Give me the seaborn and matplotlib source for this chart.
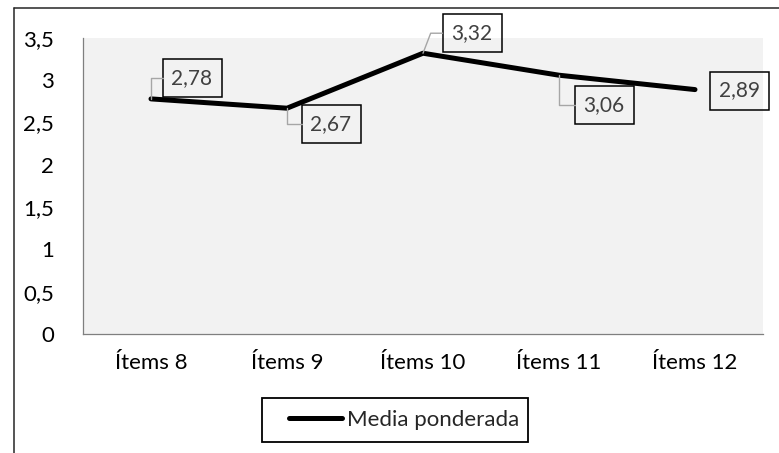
import matplotlib
matplotlib.use("Agg")
import matplotlib.pyplot as plt
from matplotlib.lines import Line2D
from matplotlib.patches import Rectangle
from matplotlib.path import Path
import numpy as np
import pandas as pd
import seaborn as sns

# Weighted means per item
categories = ["Ítems 8", "Ítems 9", "Ítems 10", "Ítems 11", "Ítems 12"]
media_ponderada = [2.78, 2.67, 3.32, 3.06, 2.89]
y_ticks = [0, 0.5, 1, 1.5, 2, 2.5, 3, 3.5]
series_name = "Media ponderada"

sns.set_theme(style="white")
plt.rcParams["font.family"] = ["Lato", "DejaVu Sans"]

FS = 16
FS_LABEL = 15
W, H = 779, 453
fig = plt.figure(figsize=(W / 100, H / 100), dpi=100)
fig.patch.set_facecolor("white")

# plot area in pixels: left, top, right, bottom
pl, pt, pr, pb = 83, 38, 763, 334
ax = fig.add_axes([pl / W, 1 - pb / H, (pr - pl) / W, (pb - pt) / H])
ax.set_facecolor("#F2F2F2")

df = pd.DataFrame({"pos": np.arange(len(categories)), "valor": media_ponderada})
sns.lineplot(data=df, x="pos", y="valor", ax=ax, color="black", linewidth=3.6,
             solid_capstyle="round", solid_joinstyle="round", legend=False)

ax.set_xlim(-0.5, len(categories) - 0.5)
ax.set_ylim(0, 3.5)
ax.set_xticks(np.arange(len(categories)))
ax.set_xticklabels(categories)
ax.set_yticks(y_ticks)
ax.set_yticklabels([f"{t:g}".replace(".", ",") for t in y_ticks])
ax.set_xlabel("")
ax.set_ylabel("")
ax.tick_params(axis="both", length=0, labelsize=FS, colors="black")
ax.tick_params(axis="y", pad=21)
ax.tick_params(axis="x", pad=14)

for s in ["top", "right"]:
    ax.spines[s].set_visible(False)
for s in ["left", "bottom"]:
    ax.spines[s].set_color("#7F7F7F")
    ax.spines[s].set_linewidth(0.9)


def label_box(x0, y0, width, height, mutation_size):
    """Fixed-size rectangular callout (59 x 38 px) centred on the text."""
    cx, cy = x0 + width / 2, y0 + height / 2
    hw, hh = 29.5, 19
    verts = [(cx - hw, cy - hh), (cx + hw, cy - hh), (cx + hw, cy + hh),
             (cx - hw, cy + hh), (cx - hw, cy - hh)]
    return Path(verts, closed=True)


# data labels: offset of box centre (pixels), leader style
label_offsets = [(41, 21), (44, -16), (49, 20), (45, -30), (44, -1)]
leader_styles = [
    "angle,angleA=0,angleB=90,rad=0",
    "angle,angleA=0,angleB=90,rad=0",
    "angle,angleA=0,angleB=69,rad=0",
    "angle,angleA=0,angleB=90,rad=0",
    None,
]
for i, v in enumerate(media_ponderada):
    dx, dy = label_offsets[i]
    style = leader_styles[i]
    ann = ax.annotate(f"{v:.2f}".replace(".", ","), xy=(i, v),
                      xytext=(dx, dy), textcoords="offset pixels",
                      ha="center", va="center", fontsize=FS_LABEL, color="#404040",
                      bbox=dict(boxstyle=label_box, fc="none", ec="black", lw=1.1),
                      annotation_clip=False)
    if style is not None:
        # leader line from the point to the left edge of the callout
        ax.annotate("", xy=(i, v), xytext=(dx - 29.5, dy),
                    textcoords="offset pixels",
                    arrowprops=dict(arrowstyle="-", color="#A6A6A6", lw=1.0,
                                    connectionstyle=style,
                                    shrinkA=0, shrinkB=0),
                    annotation_clip=False)

# legend below the plot area, with its frame drawn separately
handle = Line2D([0], [0], color="black", lw=3.6, solid_capstyle="round")
leg = fig.legend([handle], [series_name], loc="center",
                 bbox_to_anchor=(404 / W, 1 - 420 / H), fontsize=FS,
                 frameon=False, handlelength=2.4,
                 handletextpad=0.2, borderpad=0, borderaxespad=0)
fig.add_artist(Rectangle((262 / W, 1 - 442 / H), 266 / W, 44 / H,
                         transform=fig.transFigure, fill=False,
                         ec="black", lw=1.3))

# chart area border (left and top edges)
fig.add_artist(Line2D([13.5 / W, 13.5 / W], [0, 1 - 8 / H], color="#262626",
                      lw=1.1, transform=fig.transFigure))
fig.add_artist(Line2D([13.5 / W, 1], [1 - 8 / H, 1 - 8 / H], color="#262626",
                      lw=1.1, transform=fig.transFigure))

fig.savefig("out.png", dpi=100)
